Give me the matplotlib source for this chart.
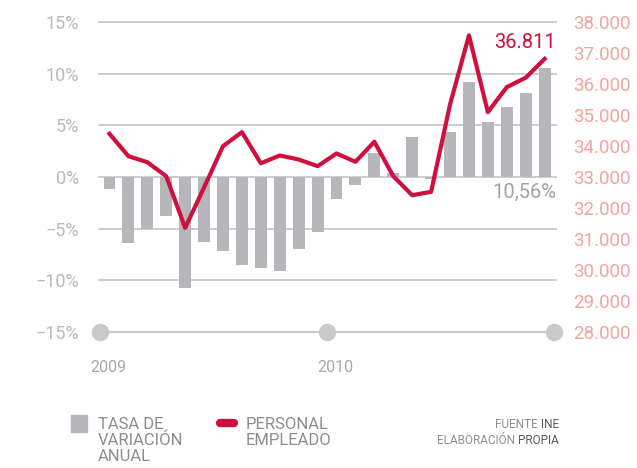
import matplotlib
matplotlib.use("Agg")
import matplotlib.pyplot as plt
from matplotlib.patches import Rectangle
from matplotlib.lines import Line2D

# ---- data ----
months = list(range(24))
year_labels = ["2009", "2010"]
year_pos = [0, 12, 24]
tasa = [-1.2, -6.4, -5.0, -3.8, -10.7, -6.3, -7.2, -8.5, -8.8, -9.1, -7.0, -5.3,
        -2.1, -0.8, 2.3, 0.4, 3.9, -0.2, 4.4, 9.2, 5.3, 6.8, 8.1, 10.56]
personal = [34395, 33672, 33478, 33026, 31359, 32661, 33995, 34447, 33442, 33694, 33565, 33349,
            33759, 33491, 34137, 33026, 32412, 32522, 35342, 37570, 35093, 35900, 36204, 36811]
left_ticks = [-15, -10, -5, 0, 5, 10, 15]
left_labels = ["\u221215%", "\u221210%", "\u22125%", "0%", "5%", "10%", "15%"]
right_ticks = list(range(28000, 38001, 1000))
right_labels = [f"{v // 1000}.000" for v in right_ticks]
grid_levels = [-10, -5, 0, 5, 10, 15]
last_personal_label = "36.811"
last_tasa_label = "10,56%"

BAR = "#b6b7ba"
RED = "#cf0f3e"
GRID = "#c9c9c9"
LEFTC = "#bababa"
RIGHTC = "#f0a69d"
TXT = "#8d8d8d"

W, H = 637, 468
fig = plt.figure(figsize=(W / 100, H / 100), dpi=100)
plt.rcParams['font.family'] = ['Roboto', 'DejaVu Sans']

ax = fig.add_axes([100 / W, 1 - 332 / H, 456 / W, 310 / H])
ax.set_xlim(0, 24.1)
ax.set_ylim(-15, 15)
for s in ax.spines.values():
    s.set_visible(False)

for g in grid_levels:
    ax.plot([-0.05, 24.1], [g, g], color=GRID, lw=1.3, zorder=1, clip_on=False)

ax.bar([m + 0.5 for m in months], tasa, width=0.63, color=BAR, zorder=2)

# timeline
ax.plot([0, 24], [-15, -15], color=GRID, lw=1.5, zorder=3, clip_on=False)
ax.plot(year_pos, [-15] * len(year_pos), 'o', color=GRID, ms=11.5, zorder=4, clip_on=False)
for x, lab in zip(year_pos[:2], year_labels):
    ax.text(x - 0.5, -18.4, lab, ha='left', va='center', color="#a8a8a8", fontsize=11.5)

ax.set_xticks([])
ax.set_yticks(left_ticks)
ax.set_yticklabels(left_labels)
ax.tick_params(axis='y', length=0, pad=15, labelsize=13, labelcolor=LEFTC)

ax2 = ax.twinx()
ax2.set_ylim(28000, 38000)
for s in ax2.spines.values():
    s.set_visible(False)
ax2.set_yticks(right_ticks)
ax2.set_yticklabels(right_labels)
ax2.tick_params(axis='y', length=0, pad=12, labelsize=13.5, labelcolor=RIGHTC)
ax2.plot([m + 0.5 for m in months], personal, color=RED, lw=3, zorder=5)

ax2.text(24.1, 37330, last_personal_label, ha='right', va='center', color=RED, fontsize=14.5)
ax.text(24.1, -1.5, last_tasa_label, ha='right', va='center', color="#a3a3a3", fontsize=14.5)

# legend
fig.add_artist(Rectangle((71 / W, 1 - 432 / H), 16 / W, 17 / H, transform=fig.transFigure,
                         color=BAR))
fig.text(98 / W, 1 - 417 / H, "TASA DE\nVARIACIÓN\nANUAL", ha='left', va='top', color=TXT,
         fontsize=12, linespacing=1.05)
fig.add_artist(Line2D([220 / W, 234 / W], [1 - 423 / H, 1 - 423 / H], transform=fig.transFigure,
                      color=RED, lw=6, solid_capstyle='round'))
fig.text(246 / W, 1 - 417 / H, "PERSONAL\nEMPLEADO", ha='left', va='top', color=TXT,
         fontsize=12, linespacing=1.05)

# source
fig.canvas.draw()
r = fig.canvas.get_renderer()
def two_tone(y, light, dark):
    t = fig.text(559 / W, 1 - y / H, dark, ha='right', va='center', color="#5a5a5a",
                 fontsize=8.5)
    bb = t.get_window_extent(r)
    fig.text(bb.x0 / W, 1 - y / H, light + " ", ha='right', va='center', color="#909090",
             fontsize=8.5)
two_tone(425, "FUENTE", "INE")
two_tone(440, "ELABORACIÓN", "PROPIA")

fig.savefig("out.png", dpi=100, facecolor='white')
